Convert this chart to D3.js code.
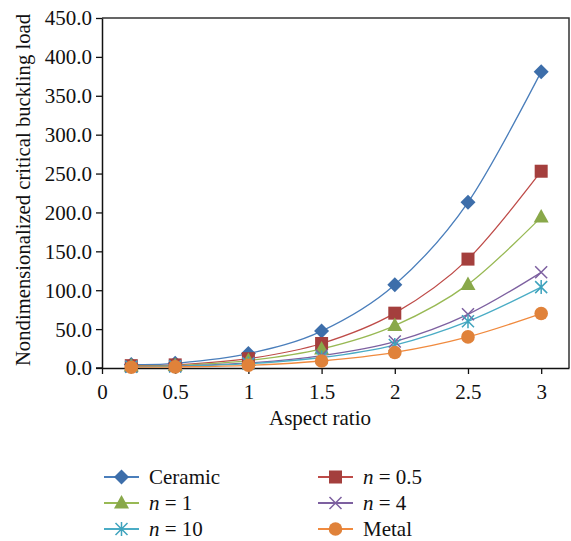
<!DOCTYPE html>
<html>
<head>
<meta charset="utf-8">
<script src="https://cdn.jsdelivr.net/npm/d3@7"></script>
<style>
  body { margin: 0; background: #fff; }
  svg text { fill: #111; }
</style>
</head>
<body>
<div id="chart"></div>
<script>
// data
var aspect = [0.2, 0.5, 1, 1.5, 2, 2.5, 3];
var ceramic = [4.5, 6, 18.5, 47.5, 107, 213, 381];
var n05 = [3, 4, 12, 31.5, 70.5, 140, 253];
var n1 = [2.5, 3.2, 9.5, 24.5, 54.5, 107.5, 194];
var n4 = [1.8, 2.4, 6.5, 16, 34, 69, 123];
var n10 = [1.5, 2, 5.5, 13.5, 29.5, 60, 104];
var metal = [1, 1.4, 3.5, 9, 20, 40, 70];
var yTicks = [0, 50, 100, 150, 200, 250, 300, 350, 400, 450];
var xTicks = [0, 0.5, 1, 1.5, 2, 2.5, 3];

var series = [
  { name: "Ceramic", vals: ceramic, line: "#4a7ebb", fill: "#3d6eaa", sym: "diamond" },
  { name: "n = 0.5", vals: n05, line: "#be4b48", fill: "#a43f3d", sym: "square" },
  { name: "n = 1", vals: n1, line: "#98b954", fill: "#89a84a", sym: "triangle" },
  { name: "n = 4", vals: n4, line: "#7d60a0", fill: "#7d60a0", sym: "cross" },
  { name: "n = 10", vals: n10, line: "#4aacc5", fill: "#3fa3bd", sym: "star" },
  { name: "Metal", vals: metal, line: "#f08a3e", fill: "#e0823a", sym: "circle" }
];

var W = 571, H = 541;
var FONT = "'Liberation Serif', 'Times New Roman', serif";
var svg = d3.select("#chart").append("svg").attr("width", W).attr("height", H)
  .attr("font-family", FONT);

var x = d3.scaleLinear().domain([0, 3.19]).range([102, 569]);
var y = d3.scaleLinear().domain([0, 450]).range([368, 18]);

// frame (top + right)
svg.append("path")
  .attr("d", "M" + x(0) + "," + y(450) + "H" + x(3.19) + "V" + y(0))
  .attr("fill", "none").attr("stroke", "#333").attr("stroke-width", 1.5);

var xAxis = svg.append("g").attr("transform", "translate(0," + y(0) + ")")
  .call(d3.axisBottom(x).tickValues(xTicks).tickSize(6).tickSizeOuter(0).tickFormat(d3.format("")));
var yAxis = svg.append("g").attr("transform", "translate(" + x(0) + ",0)")
  .call(d3.axisLeft(y).tickValues(yTicks).tickSize(6).tickSizeOuter(0).tickFormat(d3.format(".1f")));
[xAxis, yAxis].forEach(function(a) {
  a.attr("font-family", FONT).attr("font-size", 21);
  a.select(".domain").attr("stroke", "#111").attr("stroke-width", 1.5);
  a.selectAll(".tick line").attr("stroke", "#111").attr("stroke-width", 1.3);
  a.selectAll(".tick text").attr("fill", "#111");
});
xAxis.selectAll(".tick text").attr("y", 12).attr("dy", "0.9em");
yAxis.selectAll(".tick text").attr("x", -10).attr("dy", "0.33em");
// extend x axis a bit left of y axis like the original
svg.append("line").attr("x1", x(0) - 6).attr("x2", x(0)).attr("y1", y(0)).attr("y2", y(0))
  .attr("stroke", "#111").attr("stroke-width", 1.5);

svg.append("text").attr("x", 320).attr("y", 425).attr("text-anchor", "middle")
  .attr("font-size", 21).text("Aspect ratio");
svg.append("text").attr("transform", "translate(30,190) rotate(-90)").attr("text-anchor", "middle")
  .attr("font-size", 20.7).text("Nondimensionalized critical buckling load");

var line = d3.line().curve(d3.curveCatmullRom.alpha(0))
  .x(function(d, i) { return x(aspect[i]); })
  .y(function(d) { return y(d); });

function marker(g, s, cx, cy) {
  if (s.sym === "diamond") {
    g.append("path").attr("d", "M" + cx + "," + (cy - 7.5) + "L" + (cx + 7.5) + "," + cy + "L" + cx + "," + (cy + 7.5) + "L" + (cx - 7.5) + "," + cy + "Z")
      .attr("fill", s.fill);
  } else if (s.sym === "square") {
    g.append("rect").attr("x", cx - 6.5).attr("y", cy - 6.5).attr("width", 13).attr("height", 13)
      .attr("fill", s.fill);
  } else if (s.sym === "triangle") {
    g.append("path").attr("d", "M" + cx + "," + (cy - 8) + "L" + (cx + 7.5) + "," + (cy + 5.5) + "L" + (cx - 7.5) + "," + (cy + 5.5) + "Z")
      .attr("fill", s.fill);
  } else if (s.sym === "cross") {
    g.append("path").attr("d", "M" + (cx - 6) + "," + (cy - 6) + "L" + (cx + 6) + "," + (cy + 6) + "M" + (cx + 6) + "," + (cy - 6) + "L" + (cx - 6) + "," + (cy + 6))
      .attr("stroke", s.fill).attr("stroke-width", 1.5).attr("fill", "none");
  } else if (s.sym === "star") {
    g.append("path").attr("d", "M" + (cx - 6) + "," + (cy - 6) + "L" + (cx + 6) + "," + (cy + 6) + "M" + (cx + 6) + "," + (cy - 6) + "L" + (cx - 6) + "," + (cy + 6) + "M" + cx + "," + (cy - 7) + "L" + cx + "," + (cy + 7))
      .attr("stroke", s.fill).attr("stroke-width", 1.5).attr("fill", "none");
  } else {
    g.append("circle").attr("cx", cx).attr("cy", cy).attr("r", 6.8).attr("fill", s.fill);
  }
}

var plot = svg.append("g");
series.forEach(function(s) {
  plot.append("path").datum(s.vals).attr("d", line)
    .attr("fill", "none").attr("stroke", s.line).attr("stroke-width", 1.3);
});
series.forEach(function(s) {
  var g = plot.append("g");
  s.vals.forEach(function(v, i) { marker(g, s, x(aspect[i]), y(v)); });
});

// legend
var legend = svg.append("g");
series.forEach(function(s, i) {
  var col = i % 2, row = Math.floor(i / 2);
  var lx = col === 0 ? 104 : 318, ly = 477 + row * 26;
  var g = legend.append("g");
  g.append("line").attr("x1", lx).attr("x2", lx + 35).attr("y1", ly).attr("y2", ly)
    .attr("stroke", s.line).attr("stroke-width", 1.8);
  marker(g, s, lx + 17.5, ly);
  var t = g.append("text").attr("x", lx + 45).attr("y", ly + 7).attr("font-size", 21);
  if (s.name.indexOf("n = ") === 0) {
    t.append("tspan").style("font-style", "italic").text("n");
    t.append("tspan").text(" = " + s.name.slice(4));
  } else {
    t.text(s.name);
  }
});
</script>
</body>
</html>
